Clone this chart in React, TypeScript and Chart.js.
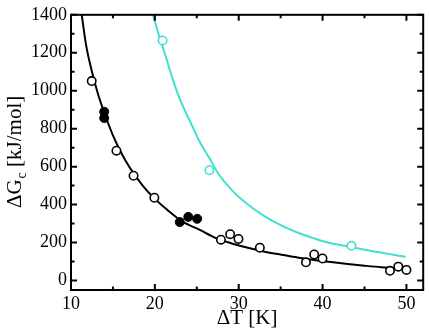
import React, { useEffect, useRef } from "react";
import { Chart, registerables } from "chart.js";

Chart.register(...registerables);

// Measured data points
const blackOpenX = [12.47, 15.42, 17.46, 19.94, 27.88, 28.98, 29.97, 32.52, 38.02, 39.0, 39.99, 48.04, 49.03, 50.0];
const blackOpenY = [1051, 684, 552, 436, 215, 244, 219, 173, 96, 137, 116, 51, 73, 56];
const blackFilledX = [13.96, 13.96, 22.97, 23.99, 25.05];
const blackFilledY = [889, 856, 308, 335, 325];
const cyanOpenX = [20.92, 26.5, 43.44];
const cyanOpenY = [1265, 581, 183];

// Fitted curves
const blackCurveX = [11.25, 11.8, 12.5, 13.2, 14.0, 15.0, 16.0, 17.0, 18.5, 20.0, 21.5, 23.3, 25.3, 27.2, 29.0, 31.1, 33.1, 35.1, 37.0, 39.0, 41.0, 43.0, 45.0, 47.0, 48.8, 50.0];
const blackCurveY = [1410, 1240, 1100, 985, 880, 765, 672, 595, 503, 430, 372, 310, 268, 225, 198, 173, 152, 136, 121, 108, 97, 87, 78, 70, 65, 61];
const cyanCurveX = [19.7, 20.5, 21.3, 22.1, 22.9, 24.5, 25.3, 26.5, 27.6, 29.2, 31.1, 33.1, 35.0, 37.0, 39.0, 41.0, 43.4, 44.9, 47.5, 49.9];
const cyanCurveY = [1410, 1290, 1180, 1065, 965, 810, 735, 645, 561, 475, 400, 338, 292, 253, 222, 196, 177, 163, 143, 125];

// Axes
const xMajorTicks = [10, 20, 30, 40, 50];
const xMinorTicks = [15, 25, 35, 45];
const yMajorTicks = [0, 200, 400, 600, 800, 1000, 1200, 1400];
const yMinorTicks = [100, 300, 500, 700, 900, 1100, 1300];
const xTitle = "ΔT [K]";
const yTitleMain = "ΔG";
const yTitleSub = "c";
const yTitleRest = " [kJ/mol]";

const CYAN = "#40E0D0";
const FONT = "'Liberation Serif', 'Times New Roman', serif";

const pts = (xs: number[], ys: number[]) => xs.map((x, i) => ({ x, y: ys[i] }));

const framePlugin = {
  id: "frameTicks",
  afterDatasetsDraw(chart: any) {
    const { ctx, chartArea } = chart;
    const { left, right, top, bottom } = chartArea;
    const xs = chart.scales.x;
    const ys = chart.scales.y;
    ctx.save();
    ctx.strokeStyle = "#000";
    ctx.lineWidth = 2;
    ctx.strokeRect(left, top, right - left, bottom - top);
    const major = 6;
    const minor = 3.5;
    ctx.beginPath();
    const xt = (v: number, len: number) => {
      const p = xs.getPixelForValue(v);
      ctx.moveTo(p, bottom);
      ctx.lineTo(p, bottom - len);
      ctx.moveTo(p, top);
      ctx.lineTo(p, top + len);
    };
    const yt = (v: number, len: number) => {
      const p = ys.getPixelForValue(v);
      ctx.moveTo(left, p);
      ctx.lineTo(left + len, p);
      ctx.moveTo(right, p);
      ctx.lineTo(right - len, p);
    };
    xMajorTicks.forEach((v) => xt(v, major));
    xMinorTicks.forEach((v) => xt(v, minor));
    yMajorTicks.forEach((v) => yt(v, major));
    yMinorTicks.forEach((v) => yt(v, minor));
    ctx.stroke();

    // titles
    ctx.fillStyle = "#000";
    ctx.font = `21px ${FONT}`;
    ctx.textAlign = "center";
    ctx.textBaseline = "alphabetic";
    ctx.fillText(xTitle, (left + right) / 2, 324);

    const mainFont = `21px ${FONT}`;
    const subFont = `14px ${FONT}`;
    ctx.font = mainFont;
    const w1 = ctx.measureText(yTitleMain).width;
    const w3 = ctx.measureText(yTitleRest).width;
    ctx.font = subFont;
    const w2 = ctx.measureText(yTitleSub).width;
    const total = w1 + w2 + w3;
    ctx.translate(21, (top + bottom) / 2);
    ctx.rotate(-Math.PI / 2);
    ctx.textAlign = "left";
    let cx = -total / 2;
    ctx.font = mainFont;
    ctx.fillText(yTitleMain, cx, 0);
    cx += w1 + 1;
    ctx.font = subFont;
    ctx.fillText(yTitleSub, cx, 5);
    cx += w2;
    ctx.font = mainFont;
    ctx.fillText(yTitleRest, cx, 0);
    ctx.restore();
  },
};

export default function App() {
  const ref = useRef<HTMLCanvasElement | null>(null);
  useEffect(() => {
    document.body.style.margin = "0";
    const canvas = ref.current!;
    const chart = new Chart(canvas, {
      type: "scatter",
      data: {
        datasets: [
          {
            label: "cyan points",
            data: pts(cyanOpenX, cyanOpenY),
            pointRadius: 4.2,
            pointBorderWidth: 1.6,
            pointBackgroundColor: "#fff",
            pointBorderColor: CYAN,
            showLine: false,
          },
          {
            label: "open points",
            data: pts(blackOpenX, blackOpenY),
            pointRadius: 4.2,
            pointBorderWidth: 1.6,
            pointBackgroundColor: "#fff",
            pointBorderColor: "#000",
            showLine: false,
          },
          {
            label: "filled points",
            data: pts(blackFilledX, blackFilledY),
            pointRadius: 4.5,
            pointBorderWidth: 1,
            pointBackgroundColor: "#000",
            pointBorderColor: "#000",
            showLine: false,
          },
          {
            label: "cyan fit",
            data: pts(cyanCurveX, cyanCurveY),
            showLine: true,
            borderColor: CYAN,
            borderWidth: 2,
            pointRadius: 0,
            cubicInterpolationMode: "monotone",
          },
          {
            label: "black fit",
            data: pts(blackCurveX, blackCurveY),
            showLine: true,
            borderColor: "#000",
            borderWidth: 2,
            pointRadius: 0,
            cubicInterpolationMode: "monotone",
          },
        ],
      },
      options: {
        responsive: false,
        animation: false,
        layout: { padding: { top: 8, right: 3, left: 0, bottom: 0 } },
        plugins: { legend: { display: false }, tooltip: { enabled: false } },
        scales: {
          x: {
            type: "linear",
            min: 10,
            max: 52,
            grid: { display: false, drawTicks: false },
            border: { display: false },
            ticks: {
              color: "#000",
              font: { family: FONT, size: 18 },
              padding: 3,
              maxRotation: 0,
              callback: (v: any) => String(v),
            },
            afterBuildTicks: (s: any) => {
              s.ticks = xMajorTicks.map((v) => ({ value: v }));
            },
            afterFit: (s: any) => {
              s.height = 41;
            },
          },
          y: {
            type: "linear",
            min: -50,
            max: 1400,
            grid: { display: false, drawTicks: false },
            border: { display: false },
            ticks: {
              color: "#000",
              font: { family: FONT, size: 18 },
              padding: 4,
              callback: (v: any) => String(v),
            },
            afterBuildTicks: (s: any) => {
              s.ticks = yMajorTicks.map((v) => ({ value: v }));
            },
            afterFit: (s: any) => {
              s.width = 71;
            },
          },
        },
      },
      plugins: [framePlugin],
    });
    return () => chart.destroy();
  }, []);
  return (
    <div style={{ position: "fixed", left: 0, top: 0, width: 429, height: 331, background: "#fff" }}>
      <canvas ref={ref} width={429} height={331} />
    </div>
  );
}
